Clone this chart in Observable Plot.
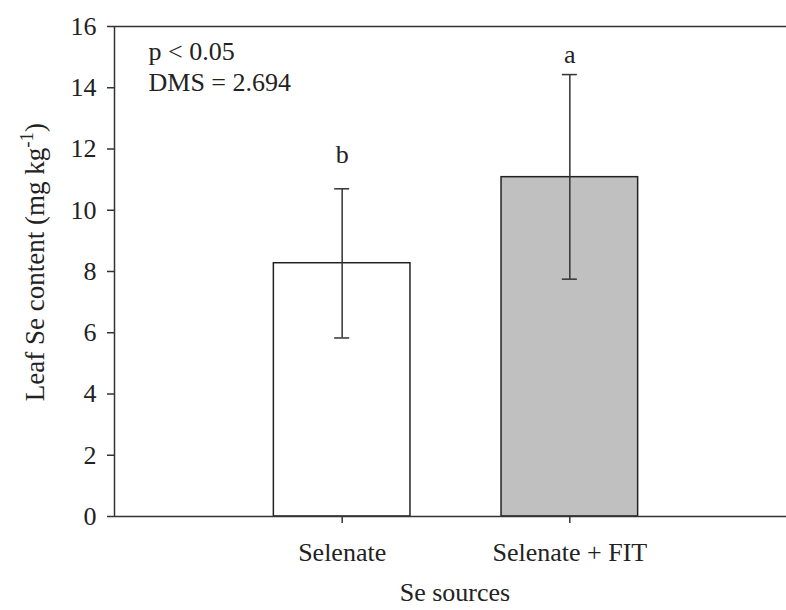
<!DOCTYPE html>
<html>
<head>
<meta charset="utf-8">
<script src="https://cdn.jsdelivr.net/npm/d3@7"></script>
<script src="https://cdn.jsdelivr.net/npm/@observablehq/plot@0.6"></script>
<style>
  html, body { margin: 0; padding: 0; background: #fff; }
  #chart { width: 786px; height: 610px; }
</style>
</head>
<body>
<div id="chart"></div>
<script>
const categories = ["Selenate", "Selenate + FIT"];
const means = [8.27, 11.08];
const errLow = [5.83, 7.75];
const errHigh = [10.70, 14.43];
const letters = ["b", "a"];
const letterY = [11.53, 14.82];
const fills = ["#ffffff", "#c0c0c0"];
const yTicks = [0, 2, 4, 6, 8, 10, 12, 14, 16];
const notes = ["p < 0.05", "DMS = 2.694"];

const data = categories.map((c, i) => ({
  cat: c, pos: i + 1, mean: means[i], lo: errLow[i], hi: errHigh[i],
  letter: letters[i], ly: letterY[i], fill: fills[i]
}));

const font = "Liberation Serif";
const ink = "#333";

const chart = Plot.plot({
  width: 786,
  height: 610,
  marginLeft: 114,
  marginRight: 0,
  marginTop: 26,
  marginBottom: 94,
  style: { fontFamily: font, fontSize: "26px", color: "#222", background: "#fff" },
  x: { domain: [0, 3], range: [114, 797], axis: null },
  y: { domain: [0, 16], axis: null },
  marks: [
    Plot.rectY(data, { x1: d => d.pos - 0.3, x2: d => d.pos + 0.3, y1: 0, y2: "mean", fill: "fill", stroke: "#222", strokeWidth: 1.5 }),
    Plot.ruleX(data, { x: "pos", y1: "lo", y2: "hi", stroke: ink, strokeWidth: 1.5 }),
    Plot.ruleY(data, { y: "hi", x1: d => d.pos - 0.033, x2: d => d.pos + 0.033, stroke: ink, strokeWidth: 1.5 }),
    Plot.ruleY(data, { y: "lo", x1: d => d.pos - 0.033, x2: d => d.pos + 0.033, stroke: ink, strokeWidth: 1.5 }),
    Plot.text(data, { x: "pos", y: "ly", text: "letter", lineAnchor: "bottom", fontSize: 26, fontFamily: font, fill: "#222" }),
    Plot.ruleY([0, 16], { stroke: ink, strokeWidth: 1.5 }),
    Plot.ruleX([0], { y1: 0, y2: 16, stroke: ink, strokeWidth: 1.5 }),
    Plot.axisY({ ticks: yTicks, tickSize: 7, tickPadding: 11, fontSize: 26, fontFamily: font, stroke: ink, strokeWidth: 1.5, label: null, tickFormat: d => d }),
    Plot.axisX({ ticks: [1, 2], tickSize: 7, tickPadding: 19, fontSize: 26, fontFamily: font, stroke: ink, strokeWidth: 1.5, label: null, tickFormat: d => categories[d - 1] }),
    Plot.text([notes.join("\n")], { frameAnchor: "top-left", lineAnchor: "top", lineHeight: 1.19, dx: 34, dy: 12, textAnchor: "start", fontSize: 26, fontFamily: font, fill: "#222" })
  ]
});

document.getElementById("chart").appendChild(chart);

const svg = d3.select(chart);

// Y axis title with superscript
const yt = svg.append("text")
  .attr("transform", "translate(44,262) rotate(-90)")
  .attr("text-anchor", "middle")
  .attr("font-size", 27)
  .attr("fill", "#222");
yt.append("tspan").text("Leaf Se content (mg kg");
yt.append("tspan").attr("dy", -11).attr("font-size", 19).text("-1");
yt.append("tspan").attr("dy", 11).text(")");

// X axis title
svg.append("text")
  .attr("x", 455).attr("y", 601)
  .attr("text-anchor", "middle")
  .attr("font-size", 26)
  .attr("fill", "#222")
  .text("Se sources");

svg.selectAll("g, text").attr("font-family", font).style("font-family", font);
</script>
</body>
</html>
